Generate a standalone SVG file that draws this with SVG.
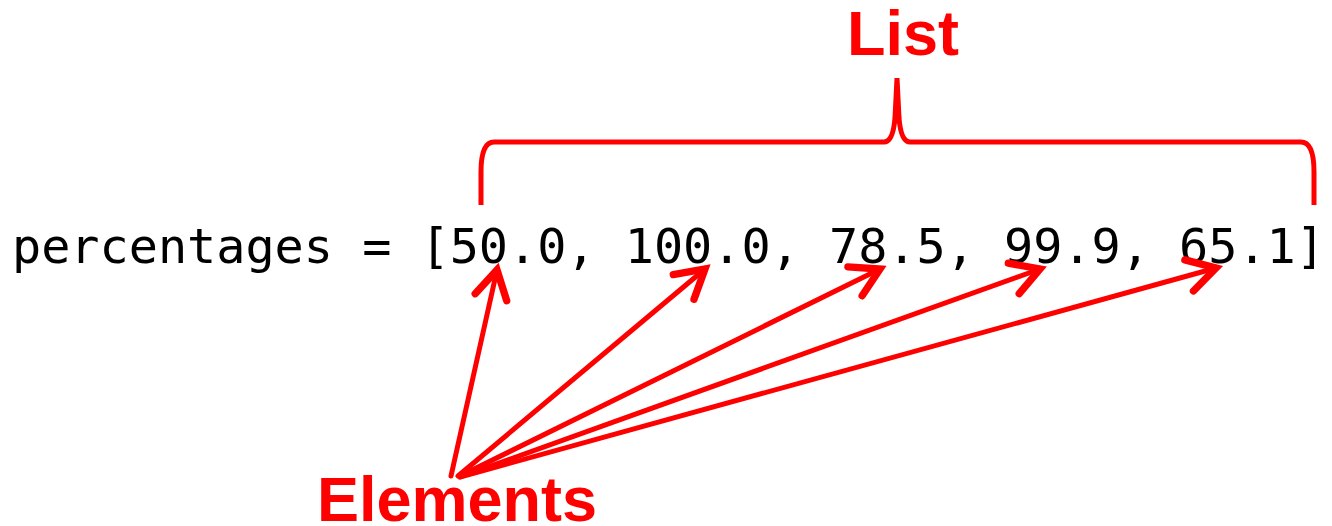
<svg xmlns="http://www.w3.org/2000/svg" width="1332" height="526" viewBox="0 0 1332 526">
<style>
.lbl{font-family:"Liberation Sans",Arial,sans-serif;font-weight:bold;fill:#ff0000;font-size:63px}
.code{font-family:"DejaVu Sans Mono","Liberation Mono",monospace;fill:#000;font-size:48.5px}
.ln{stroke:#ff0000;stroke-width:5;fill:none;stroke-linecap:round}
</style>
<defs>
<marker id="ah" markerUnits="userSpaceOnUse" markerWidth="44" markerHeight="44" refX="0" refY="0" viewBox="-24 -15 28 30" orient="auto">
<path d="M-19,-11 L0,0 L-19,11" fill="none" stroke="#ff0000" stroke-width="5" stroke-linecap="round" stroke-linejoin="miter"/>
</marker>
</defs>
<rect width="1332" height="526" fill="#fff"/>
<g id="code"><text class="code" x="12" y="263" textLength="1313" lengthAdjust="spacing">percentages = [50.0, 100.0, 78.5, 99.9, 65.1]</text></g>
<g id="list"><text class="lbl" x="847" y="55">List</text></g>
<g id="brace"><path class="ln" style="stroke-linecap:butt" d="M481,205 L481,172 Q481,142 494,142 L884,142 Q893,142 895,118 L897,78 L899,118 Q901,142 910,142 L1301,142 Q1314,142 1314,172 L1314,205"/></g>
<g id="elements"><text class="lbl" x="317" y="521">Elements</text></g>
<g id="connectors">
<line class="ln" x1="451" y1="476" x2="497" y2="270" marker-end="url(#ah)"/>
<line class="ln" x1="458" y1="476" x2="705" y2="269" marker-end="url(#ah)"/>
<line class="ln" x1="460" y1="476" x2="880" y2="269" marker-end="url(#ah)"/>
<line class="ln" x1="460" y1="477" x2="1040" y2="269" marker-end="url(#ah)"/>
<line class="ln" x1="460" y1="477" x2="1216" y2="268" marker-end="url(#ah)"/>
</g>
</svg>
